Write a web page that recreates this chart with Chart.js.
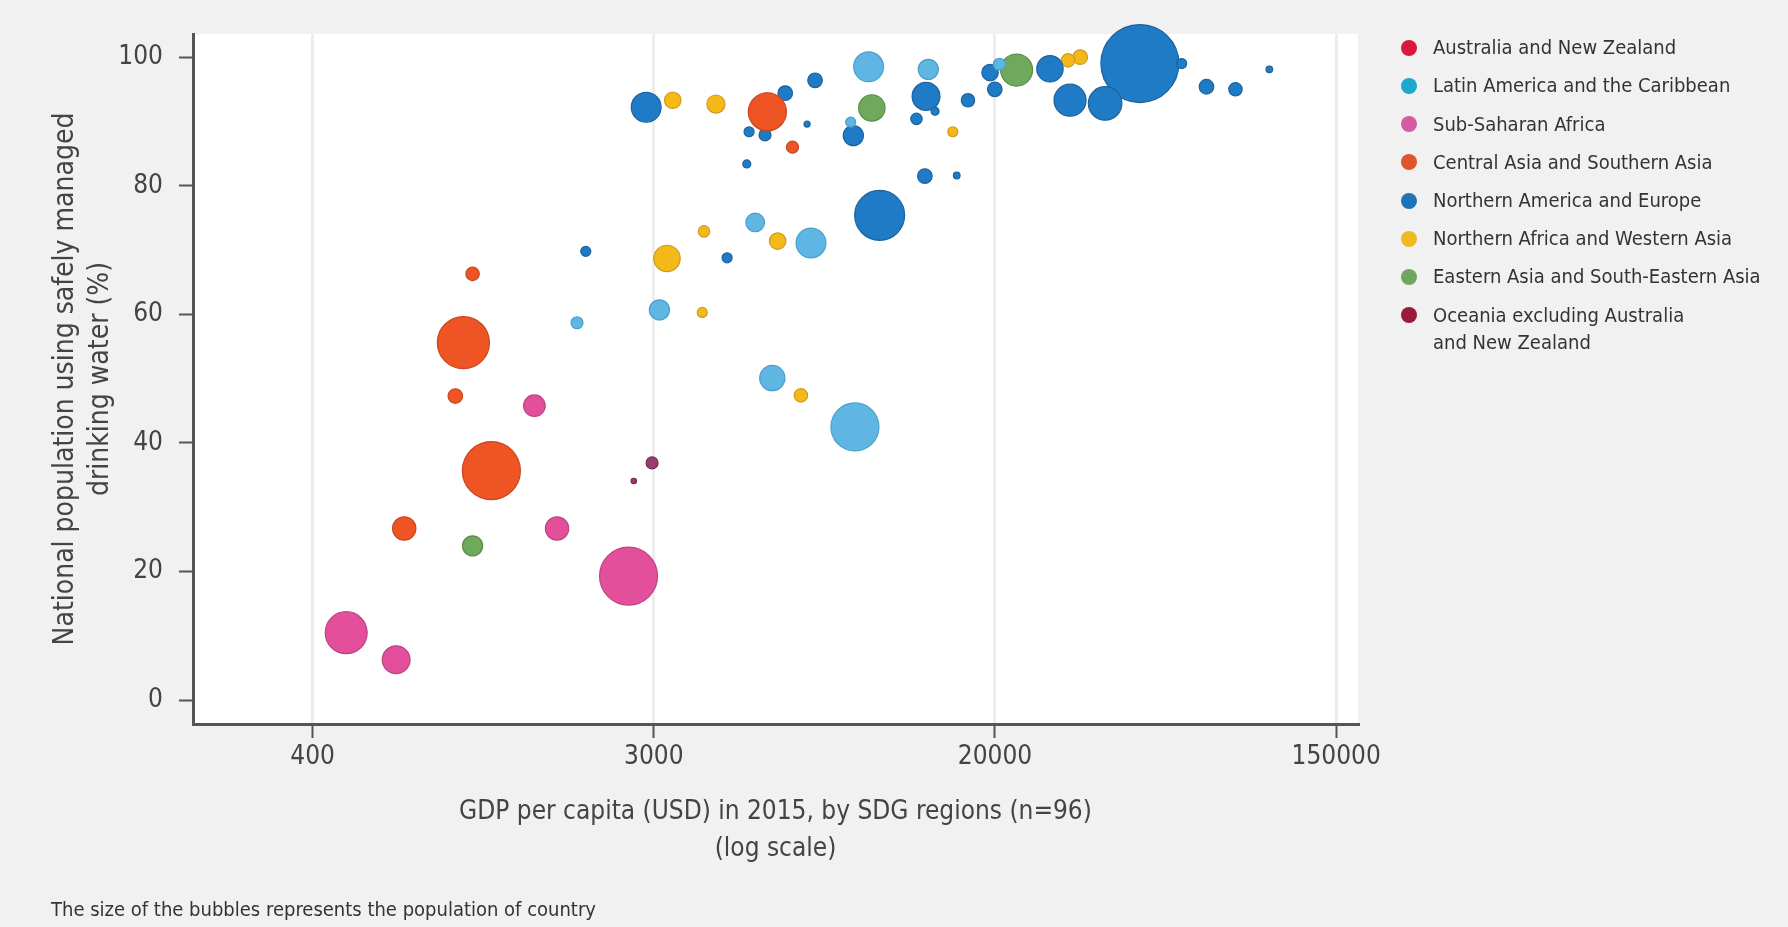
<!DOCTYPE html>
<html>
<head>
<meta charset="utf-8">
<script src="https://cdn.jsdelivr.net/npm/chart.js@4.4.1/dist/chart.umd.min.js"></script>
<style>
  html, body { margin: 0; padding: 0; background: #f1f1f1; }
  #wrap { position: relative; width: 1788px; height: 927px; overflow: hidden; }
  canvas { position: absolute; left: 0; top: 0; }
  #legend { position: absolute; left: 1401px; top: 0; font-family: 'Liberation Sans Narrow', 'DejaVu Sans Condensed', 'Roboto', sans-serif; font-size: 20px; color: #333; }
  .item { position: absolute; left: 0; white-space: nowrap; }
  .dot { position: absolute; left: 0; width: 16px; height: 16px; border-radius: 50%; }
  .txt { position: absolute; left: 32px; line-height: 27px; }
  #foot { position: absolute; left: 51px; top: 897px; font-family: 'Liberation Sans Narrow', 'DejaVu Sans Condensed', 'Roboto', sans-serif; font-size: 20px; color: #333; white-space: nowrap; }
</style>
</head>
<body>
<div id="wrap">
  <canvas id="c" width="1788" height="927"></canvas>
  <div id="legend"></div>
  <div id="foot">The size of the bubbles represents the population of country</div>
</div>
<script>
// ---- Data: [GDP per capita (USD), % safely managed drinking water, population (millions)] ----
const regionNames = [
  'Australia and New Zealand',
  'Latin America and the Caribbean',
  'Sub-Saharan Africa',
  'Central Asia and Southern Asia',
  'Northern America and Europe',
  'Northern Africa and Western Asia',
  'Eastern Asia and South-Eastern Asia',
  ['Oceania excluding Australia', 'and New Zealand']
];
const australiaNZ = [];
const latinAmerica = [
  [10500, 98.5, 46], [14900, 98.1, 21], [9450, 89.9, 5.2], [5400, 74.3, 18], [7490, 71.1, 46],
  [3080, 60.7, 21], [1900, 58.7, 7.4], [5970, 50.1, 33], [9690, 42.5, 119], [22600, 98.9, 7.4]
];
const subSaharanAfrica = [
  [1480, 45.8, 24], [1690, 26.7, 28], [2570, 19.3, 174], [491, 10.5, 91], [658, 6.3, 40]
];
const centralSouthernAsia = [
  [5800, 91.5, 75], [6720, 86.0, 7.4], [1030, 66.3, 9.3], [976, 55.6, 140], [931, 47.3, 11],
  [1150, 35.7, 174], [690, 26.7, 28]
];
const northAmericaEurope = [
  [2850, 92.2, 46], [6440, 94.4, 11], [7670, 96.4, 11], [7320, 89.6, 1.9], [5210, 88.4, 5.2],
  [5720, 87.9, 7.4], [5140, 83.4, 3.3], [9600, 87.8, 21], [14700, 93.9, 40], [15500, 91.6, 3.3],
  [13900, 90.4, 6.7], [18800, 93.3, 9.3], [14600, 81.5, 11], [17600, 81.6, 2.3], [11200, 75.4, 129],
  [2000, 69.8, 5.2], [4580, 68.8, 5.2], [21400, 97.6, 14], [22000, 95.0, 11], [30400, 98.2, 36],
  [34200, 93.3, 53], [42000, 92.8, 58], [51500, 99.0, 314], [65800, 99.0, 5.2], [76100, 95.4, 11],
  [90200, 95.0, 9.3], [110000, 98.1, 2.3]
];
const northAfricaWestAsia = [
  [3330, 93.3, 14], [4290, 92.7, 17], [17200, 88.4, 5.2], [4000, 72.9, 6.7], [6160, 71.4, 14],
  [3220, 68.7, 36], [3960, 60.3, 5.2], [7060, 47.4, 9.3], [33800, 99.5, 9.3], [36300, 100.0, 11]
];
const eastSouthEastAsia = [
  [10700, 92.1, 36], [25000, 98.0, 53], [1030, 24.0, 21]
];
const oceania = [
  [2950, 36.9, 7.4], [2650, 34.1, 1.5]
];
const regionData = [australiaNZ, latinAmerica, subSaharanAfrica, centralSouthernAsia,
  northAmericaEurope, northAfricaWestAsia, eastSouthEastAsia, oceania];

// Tick positions (e^6, e^8, e^10, e^12) and their printed labels
const xTickValues = [403.4, 2981, 22026, 162755];
const xTickLabels = ['400', '3000', '20000', '150000'];
const yTickValues = [0, 20, 40, 60, 80, 100];

// ---- Styles ----
const bubbleFill = ['#dc1f3f', '#5fb6e3', '#e34f9a', '#ee5424', '#1f7bc6', '#f5b819', '#6ea95c', '#9b3a6c'];
const bubbleBorder = ['#b01a33', '#4b9fcb', '#bb4580', '#c7461f', '#1d629c', '#cf9b1a', '#5a8c4a', '#7a2852'];
const legendDot = ['#d8193c', '#1ea8cf', '#d65a9f', '#e0562c', '#1f74b8', '#efb922', '#72a562', '#9a1a3a'];
const FONT = "'Liberation Sans Narrow', 'DejaVu Sans Condensed', 'Roboto', sans-serif";
const SIZE_K = 2.2;

const datasets = regionData.map((rows, i) => ({
  label: Array.isArray(regionNames[i]) ? regionNames[i].join(' ') : regionNames[i],
  data: rows.slice().sort((a, b) => b[2] - a[2]).map(r => ({ x: r[0], y: r[1], r: Math.max(2, SIZE_K * Math.sqrt(r[2])) })),
  backgroundColor: bubbleFill[i],
  borderColor: bubbleBorder[i],
  borderWidth: 1.2,
  hoverRadius: 0,
  clip: false
}));

const plotBg = {
  id: 'plotBg',
  beforeDraw(chart) {
    const { ctx, chartArea: a } = chart;
    ctx.save();
    ctx.fillStyle = '#ffffff';
    ctx.fillRect(a.left, a.top, a.right - a.left, a.bottom - a.top);
    ctx.restore();
  }
};

new Chart(document.getElementById('c'), {
  type: 'bubble',
  data: { datasets },
  plugins: [plotBg],
  options: {
    responsive: false,
    animation: false,
    events: [],
    layout: { autoPadding: false, padding: { top: 34, right: 430, bottom: 0, left: 0 } },
    plugins: { legend: { display: false }, tooltip: { enabled: false } },
    scales: {
      x: {
        type: 'logarithmic',
        position: 'bottom',
        min: 200,
        max: 185000,
        afterBuildTicks: s => { s.ticks = xTickValues.map(v => ({ value: v })); },
        afterFit: s => { s.height = 203; },
        ticks: {
          callback: (v, i) => xTickLabels[i],
          autoSkip: false, maxRotation: 0, padding: 4,
          color: '#444', font: { family: FONT, size: 26 }
        },
        grid: { color: '#ededed', lineWidth: 3, tickColor: '#555', tickWidth: 2, tickLength: 14 },
        border: { color: '#555', width: 3 },
        title: {
          display: true,
          text: ['GDP per capita (USD) in 2015, by SDG regions (n=96)', '(log scale)'],
          color: '#444', font: { family: FONT, size: 26, lineHeight: 1.4 },
          padding: { top: 0, bottom: 60 }
        }
      },
      y: {
        type: 'linear',
        min: -3.7,
        max: 103.6,
        afterBuildTicks: s => { s.ticks = yTickValues.map(v => ({ value: v })); },
        afterFit: s => { s.width = 193; },
        ticks: { padding: 16, color: '#444', font: { family: FONT, size: 26 } },
        grid: { drawOnChartArea: false, tickColor: '#555', tickWidth: 2, tickLength: 14 },
        border: { color: '#555', width: 3 },
        title: {
          display: true,
          text: ['National population using safely managed', 'drinking water (%)'],
          color: '#444', font: { family: FONT, size: 28, lineHeight: 1.25 },
          padding: { top: 48, bottom: 0 }
        }
      }
    }
  }
});

// ---- HTML legend built from the region names ----
const legendEl = document.getElementById('legend');
const rowTops = [47.7, 85.9, 124, 162.3, 200.5, 238.7, 276.9, 315];
regionNames.forEach((name, i) => {
  const item = document.createElement('div');
  item.className = 'item';
  item.style.top = (rowTops[i]) + 'px';
  const dot = document.createElement('div');
  dot.className = 'dot';
  dot.style.background = legendDot[i];
  dot.style.top = '-8px';
  const txt = document.createElement('div');
  txt.className = 'txt';
  txt.style.top = '-13.5px';
  txt.innerHTML = (Array.isArray(name) ? name : [name]).join('<br>');
  item.appendChild(dot);
  item.appendChild(txt);
  legendEl.appendChild(item);
});
</script>
</body>
</html>
